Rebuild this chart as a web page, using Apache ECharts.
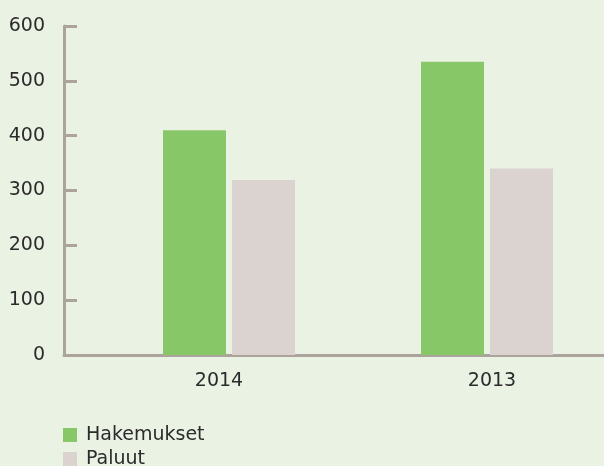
<!DOCTYPE html>
<html>
<head>
<meta charset="utf-8">
<script src="https://cdn.jsdelivr.net/npm/echarts@6/dist/echarts.min.js"></script>
<style>
  html, body { margin: 0; padding: 0; background: #eaf2e4; }
  #chart { width: 604px; height: 466px; }
</style>
</head>
<body>
<div id="chart"></div>
<script>
var years = ['2014', '2013'];
var hakemukset = [410, 535];
var paluut = [319, 340];

var axisColor = '#aca39d';
var textColor = '#2b2b2b';
var font = 'DejaVu Sans';

var myChart = echarts.init(document.getElementById('chart'));

option = {
    backgroundColor: '#eaf2e4',
    animation: false,
    legend: {
        orient: 'vertical',
        left: 63,
        top: 424,
        height: 60,
        padding: 0,
        itemWidth: 14,
        itemHeight: 14,
        itemGap: 2,
        icon: 'rect',
        textStyle: { color: textColor, fontSize: 19, fontFamily: font, lineHeight: 22, padding: [0, 0, 0, 4] },
        data: ['Hakemukset', 'Paluut']
    },
    grid: [
        // axis frame
        { left: 64, right: 0, top: 26, bottom: 111, outerBoundsMode: 'none' },
        // bars
        { left: 100, width: 516, top: 26, bottom: 111, outerBoundsMode: 'none' }
    ],
    xAxis: [
        {
            gridIndex: 0,
            type: 'category',
            data: years,
            axisLine: { lineStyle: { color: axisColor, width: 3 } },
            axisTick: { show: false },
            axisLabel: { show: false }
        },
        {
            gridIndex: 1,
            type: 'category',
            data: years,
            axisLine: { show: false },
            axisTick: { show: false },
            axisLabel: {
                color: textColor, fontSize: 19, fontFamily: font, margin: 17,
                // labels in the original sit a bit off the bar pairs
                formatter: function (value, index) {
                    return (index === 0 ? '{l|' : '{r|') + value + '}';
                },
                rich: {
                    l: { color: textColor, fontSize: 19, fontFamily: font, padding: [0, 20, 0, 0] },
                    r: { color: textColor, fontSize: 19, fontFamily: font, padding: [0, 0, 0, 10] }
                }
            }
        }
    ],
    yAxis: [
        {
            gridIndex: 0,
            type: 'value',
            min: 0,
            max: 600,
            interval: 100,
            axisLine: { show: true, lineStyle: { color: axisColor, width: 3 } },
            axisTick: { show: true, inside: true, length: 13, lineStyle: { color: axisColor, width: 3 } },
            axisLabel: { color: textColor, fontSize: 19, fontFamily: font, margin: 19 },
            splitLine: { show: false }
        },
        {
            gridIndex: 1,
            type: 'value',
            min: 0,
            max: 600,
            interval: 100,
            show: false
        }
    ],
    series: [
        {
            name: 'Hakemukset',
            type: 'bar',
            xAxisIndex: 1,
            yAxisIndex: 1,
            barWidth: 63,
            barGap: '9.5%',
            itemStyle: { color: '#88c767' },
            data: hakemukset
        },
        {
            name: 'Paluut',
            type: 'bar',
            xAxisIndex: 1,
            yAxisIndex: 1,
            barWidth: 63,
            barGap: '9.5%',
            itemStyle: { color: '#dad3d0' },
            data: paluut
        }
    ]
};
myChart.setOption(option);
</script>
</body>
</html>
